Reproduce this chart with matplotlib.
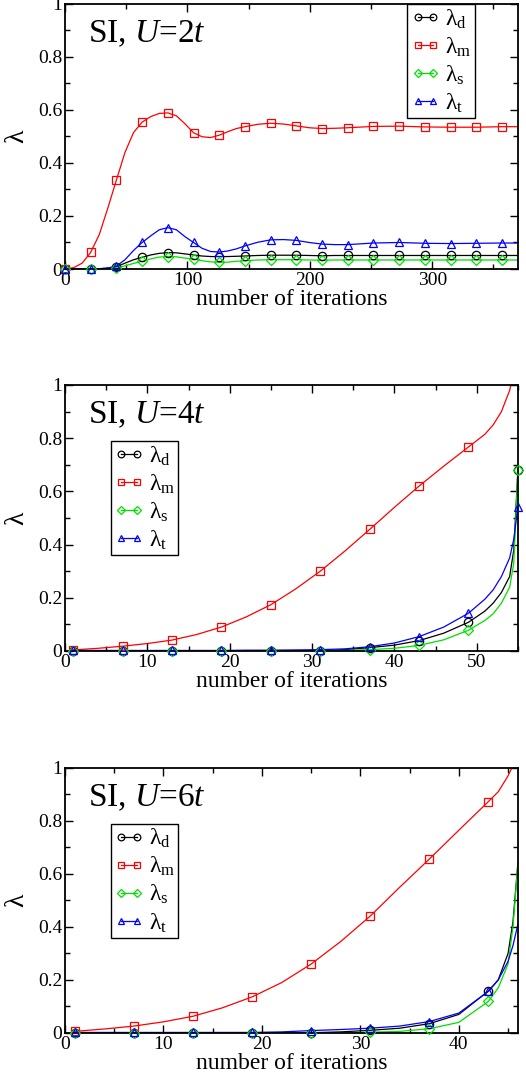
import numpy as np
import matplotlib
matplotlib.use("Agg")
import matplotlib.pyplot as plt
from matplotlib.lines import Line2D
from matplotlib.ticker import MultipleLocator, FuncFormatter

plt.rcParams['font.family'] = ['Liberation Serif', 'DejaVu Serif']
plt.rcParams['mathtext.fontset'] = 'custom'
plt.rcParams['mathtext.rm'] = 'Liberation Serif'
plt.rcParams['mathtext.it'] = 'Liberation Serif:italic'

names = ['d', 'm', 's', 't']
colors = {'d': 'black', 'm': '#ff0000', 's': '#00e000', 't': '#0000ff'}
markers = {'d': 'o', 'm': 's', 's': 'D', 't': '^'}

# ---- U = 2t ----
x1 = [0, 7, 14, 21, 28, 35, 42, 49, 56, 63, 70, 77, 84, 91, 98, 105, 112, 119, 126,
      133, 140, 147, 157.5, 168, 178.5, 189, 199.5, 210, 220.5, 231, 252, 273, 294,
      315, 336, 357, 370]
mark1 = [0, 21, 42, 63, 84, 105, 126, 147, 168, 189, 210, 231, 252, 273, 294, 315, 336, 357]
d1 = [0, 0, 0, 0, 0.001, 0.003, 0.009, 0.022, 0.035, 0.044, 0.053, 0.059, 0.062, 0.061,
      0.057, 0.053, 0.049, 0.047, 0.047, 0.047, 0.048, 0.049, 0.051, 0.052, 0.052, 0.052,
      0.051, 0.050, 0.051, 0.051, 0.051, 0.051, 0.051, 0.051, 0.051, 0.051, 0.051]
m1 = [0, 0.005, 0.022, 0.063, 0.13, 0.23, 0.336, 0.44, 0.515, 0.554, 0.575, 0.587, 0.589,
      0.578, 0.548, 0.514, 0.499, 0.496, 0.505, 0.518, 0.53, 0.537, 0.546, 0.550, 0.547,
      0.540, 0.533, 0.530, 0.531, 0.533, 0.538, 0.539, 0.536, 0.535, 0.535, 0.537, 0.537]
s1 = [0, 0, 0, 0, 0, 0.001, 0.004, 0.012, 0.021, 0.029, 0.038, 0.045, 0.047, 0.046,
      0.041, 0.038, 0.031, 0.027, 0.025, 0.026, 0.029, 0.031, 0.034, 0.035, 0.035, 0.035,
      0.034, 0.033, 0.034, 0.034, 0.034, 0.034, 0.034, 0.034, 0.034, 0.034, 0.034]
t1 = [0, 0, 0, 0, 0.001, 0.004, 0.011, 0.035, 0.07, 0.10, 0.125, 0.148, 0.156, 0.148,
      0.122, 0.10, 0.078, 0.066, 0.064, 0.068, 0.076, 0.087, 0.101, 0.11, 0.111, 0.108,
      0.10, 0.094, 0.092, 0.092, 0.098, 0.10, 0.097, 0.096, 0.097, 0.098, 0.098]

# ---- U = 4t ----
x2 = [1, 4, 7, 10, 13, 16, 19, 22, 25, 28, 31, 34, 37, 40, 43, 46, 49, 51, 52, 53, 54, 54.5, 55]
mark2 = [1, 7, 13, 19, 25, 31, 37, 43, 49, 55]
d2 = [0.001, 0.001, 0.001, 0.001, 0.001, 0.001, 0.001, 0.001, 0.001, 0.001, 0.001, 0.005,
      0.0125, 0.022, 0.039, 0.067, 0.108, 0.15, 0.18, 0.22, 0.28, 0.38, 0.681]
m2 = [0.004, 0.01, 0.018, 0.028, 0.041, 0.062, 0.090, 0.128, 0.174, 0.233, 0.30, 0.376,
      0.457, 0.54, 0.62, 0.695, 0.767, 0.815, 0.85, 0.90, 0.98, 1.05, 1.12]
s2 = [0, 0, 0, 0, 0, 0, 0, 0, 0, 0, 0, 0.002, 0.005, 0.01, 0.021, 0.042, 0.078, 0.115,
      0.14, 0.18, 0.24, 0.33, 0.681]
t2 = [0.002, 0.002, 0.002, 0.002, 0.002, 0.002, 0.002, 0.003, 0.003, 0.004, 0.005, 0.008,
      0.016, 0.03, 0.054, 0.09, 0.142, 0.195, 0.23, 0.28, 0.35, 0.42, 0.543]

# ---- U = 6t ----
x3 = [1, 4, 7, 10, 13, 16, 19, 22, 25, 28, 31, 34, 37, 40, 43, 44, 45, 45.5, 46]
mark3 = [1, 7, 13, 19, 25, 31, 37, 43]
d3 = [0.001, 0.001, 0.001, 0.001, 0.001, 0.001, 0.001, 0.001, 0.001, 0.004, 0.01, 0.018,
      0.035, 0.07, 0.158, 0.2, 0.3, 0.42, 0.64]
m3 = [0.006, 0.015, 0.026, 0.042, 0.063, 0.095, 0.136, 0.19, 0.26, 0.345, 0.441, 0.55,
      0.656, 0.765, 0.873, 0.91, 0.97, 1.01, 1.05]
s3 = [0, 0, 0, 0, 0, 0, 0, 0, 0, 0, 0.003, 0.006, 0.016, 0.04, 0.119, 0.17, 0.26, 0.40, 0.64]
t3 = [0.002, 0.002, 0.002, 0.002, 0.002, 0.002, 0.002, 0.004, 0.009, 0.013, 0.018, 0.026,
      0.043, 0.075, 0.157, 0.2, 0.27, 0.33, 0.41]

panels = [
    dict(x=x1, marks=mark1, ys=dict(d=d1, m=m1, s=s1, t=t1), U='2', xmax=370,
         major=100, minor=50, rect=[0.1236, 0.750, 0.861, 0.2463],
         leg=dict(loc='upper right', bbox_to_anchor=(0.905, 1.0))),
    dict(x=x2, marks=mark2, ys=dict(d=d2, m=m2, s=s2, t=t2), U='4', xmax=55,
         major=10, minor=5, rect=[0.1236, 0.395, 0.861, 0.2472],
         leg=dict(loc='upper left', bbox_to_anchor=(0.101, 0.79))),
    dict(x=x3, marks=mark3, ys=dict(d=d3, m=m3, s=s3, t=t3), U='6', xmax=46,
         major=10, minor=5, rect=[0.1236, 0.040, 0.861, 0.2463],
         leg=dict(loc='upper left', bbox_to_anchor=(0.101, 0.79))),
]

fig = plt.figure(figsize=(5.26, 10.76), dpi=100)

for p in panels:
    ax = fig.add_axes(p['rect'])
    x = np.array(p['x'], dtype=float)
    handles = []
    for n in names:
        y = np.array(p['ys'][n])
        ms = 6 if n != 's' else 4.8
        ax.plot(x, y, color=colors[n], lw=0.9)
        sel = np.isin(x, p['marks']) & (y <= 1)
        ax.plot(x[sel], y[sel], ls='none', marker=markers[n], ms=ms, mfc='none',
                mec=colors[n], mew=0.9, clip_on=False, zorder=3)
        handles.append(Line2D([], [], color=colors[n], lw=0.9, marker=markers[n],
                              ms=ms * 0.8, mfc='none', mec=colors[n], mew=0.9,
                              label='λ$_\\mathrm{' + n + '}$'))
    ax.set_xlim(0, p['xmax'])
    ax.set_ylim(0, 1)
    ax.xaxis.set_major_locator(MultipleLocator(p['major']))
    ax.xaxis.set_minor_locator(MultipleLocator(p['minor']))
    ax.yaxis.set_major_locator(MultipleLocator(0.2))
    ax.yaxis.set_minor_locator(MultipleLocator(0.1))
    ax.yaxis.set_major_formatter(FuncFormatter(lambda v, pos: '%g' % round(v, 2)))
    ax.tick_params(which='both', direction='in', top=True, right=True, labelsize=14,
                   width=1)
    ax.tick_params(which='major', length=6, pad=2)
    ax.tick_params(which='minor', length=3.5)
    for sp in ax.spines.values():
        sp.set_linewidth(1.3)
    ax.set_xlabel('number of iterations', fontsize=17, labelpad=0)
    ax.set_ylabel('λ', fontsize=20, labelpad=6)
    ax.text(0.05, 0.855, 'SI, $U$=' + p['U'] + '$t$', transform=ax.transAxes,
            fontsize=24, ha='left', va='baseline')
    leg = ax.legend(handles=handles, numpoints=2, fontsize=17, handlelength=1.25,
                    handletextpad=0.2, labelspacing=0.2, borderpad=0.15,
                    borderaxespad=0, fancybox=False, framealpha=1,
                    edgecolor='black', **p['leg'])
    leg.get_frame().set_linewidth(1.0)

fig.savefig('out.png', dpi=100)
